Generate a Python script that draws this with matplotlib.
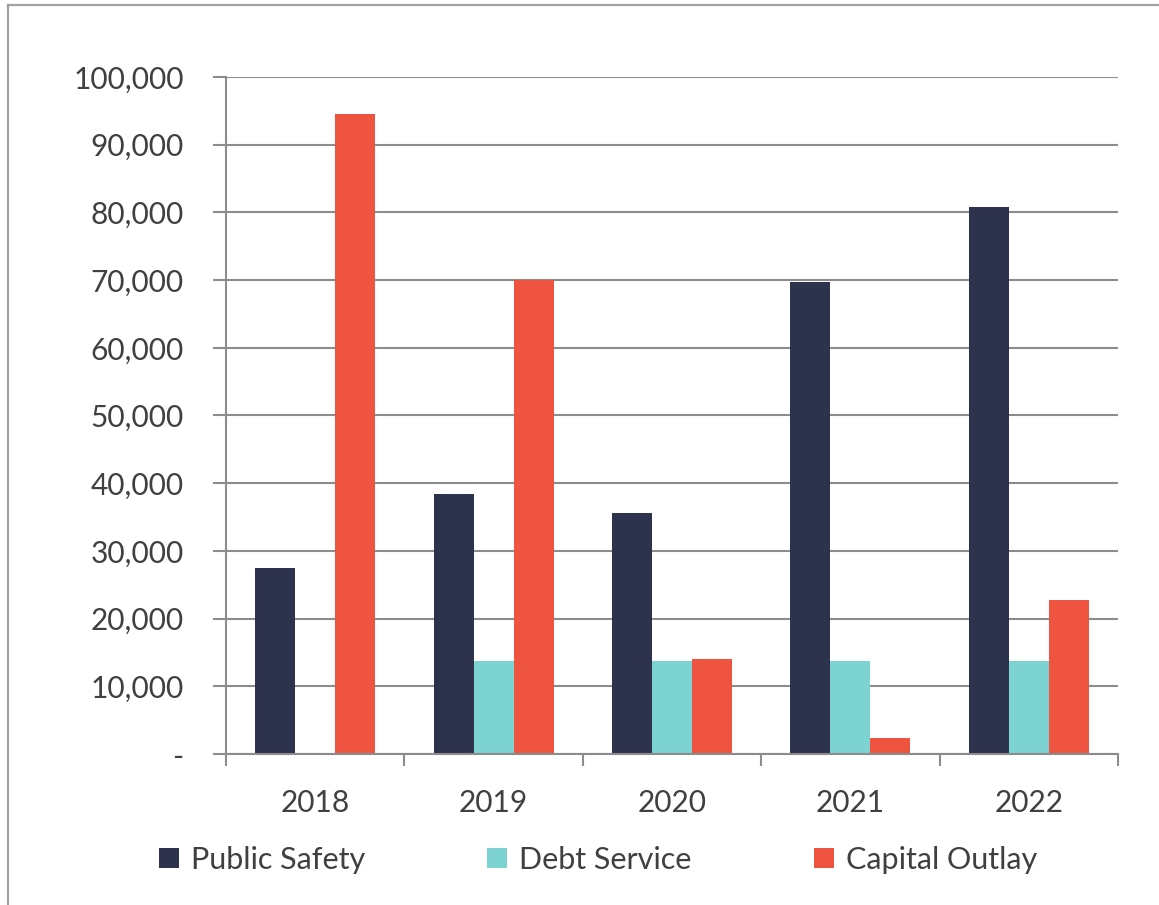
import numpy
import matplotlib

matplotlib.use("AGG")
from matplotlib import pyplot
from matplotlib.lines import Line2D

years = ["2018", "2019", "2020", "2021", "2022"]
public_safety = [27500, 38400, 35600, 69700, 80800]
debt_service = [0, 13800, 13800, 13800, 13800]
capital_outlay = [94500, 70000, 14000, 2400, 22750]

series_names = ["Public Safety", "Debt Service", "Capital Outlay"]
series_colors = ["#2E334D", "#7DD3D2", "#EF5441"]

grid_gray = "#8C8C8C"
text_gray = "#404040"

pyplot.rcParams["font.family"] = ["Lato", "DejaVu Sans"]

f = pyplot.figure(figsize=(11.59, 9.05), dpi=100)
ax = f.add_axes([226 / 1159, 1 - 754 / 905, (1118 - 226) / 1159, (754 - 77) / 905])

x = numpy.arange(len(years))
width = 0.224
for i, (vals, name, col) in enumerate(zip([public_safety, debt_service, capital_outlay],
                                          series_names, series_colors)):
    ax.bar(x + (i - 1) * width, vals, width, color=col, label=name, zorder=3, linewidth=0)

ax.set_xlim(-0.5, len(years) - 0.5)
ax.set_ylim(0, 100000)

# y axis: gridlines and labels, zero shown as a dash
yt = numpy.arange(0, 100001, 10000)
ax.set_yticks(yt)
ax.set_yticklabels(["-" if v == 0 else "{:,}".format(v) for v in yt])
ax.yaxis.grid(True, color=grid_gray, linewidth=1.5, zorder=0)
ax.tick_params(axis="y", length=9.5, width=1.5, color=grid_gray, pad=21,
               labelsize=21.5, labelcolor=text_gray)

# x axis: labels centred, tick marks between groups
ax.set_xticks(x)
ax.set_xticklabels(years)
ax.set_xticks(numpy.arange(-0.5, len(years), 1.0), minor=True)
ax.tick_params(axis="x", which="major", length=0, pad=25, labelsize=21.5, labelcolor=text_gray)
ax.tick_params(axis="x", which="minor", length=8.5, width=1.5, color=grid_gray)

for side in ["top", "right"]:
    ax.spines[side].set_visible(False)
for side in ["left", "bottom"]:
    ax.spines[side].set_color(grid_gray)
    ax.spines[side].set_linewidth(1.5)
    ax.spines[side].set_zorder(4)

leg = f.legend(loc="center", bbox_to_anchor=(0.516, 1 - 860 / 905), ncol=3,
               frameon=False, fontsize=22, handlelength=0.65, handleheight=0.65,
               handletextpad=0.4, columnspacing=4.0)
for t in leg.get_texts():
    t.set_color(text_gray)

# outer frame (only the left and top edges fall inside the image)
f.add_artist(Line2D([8 / 1159, 8 / 1159], [0, 1 - 5 / 905], transform=f.transFigure,
                    color="#A0A0A0", linewidth=1.6))
f.add_artist(Line2D([8 / 1159, 1], [1 - 5 / 905, 1 - 5 / 905], transform=f.transFigure,
                    color="#A0A0A0", linewidth=1.6))

pyplot.savefig("out.png", dpi=100)
pyplot.close()
